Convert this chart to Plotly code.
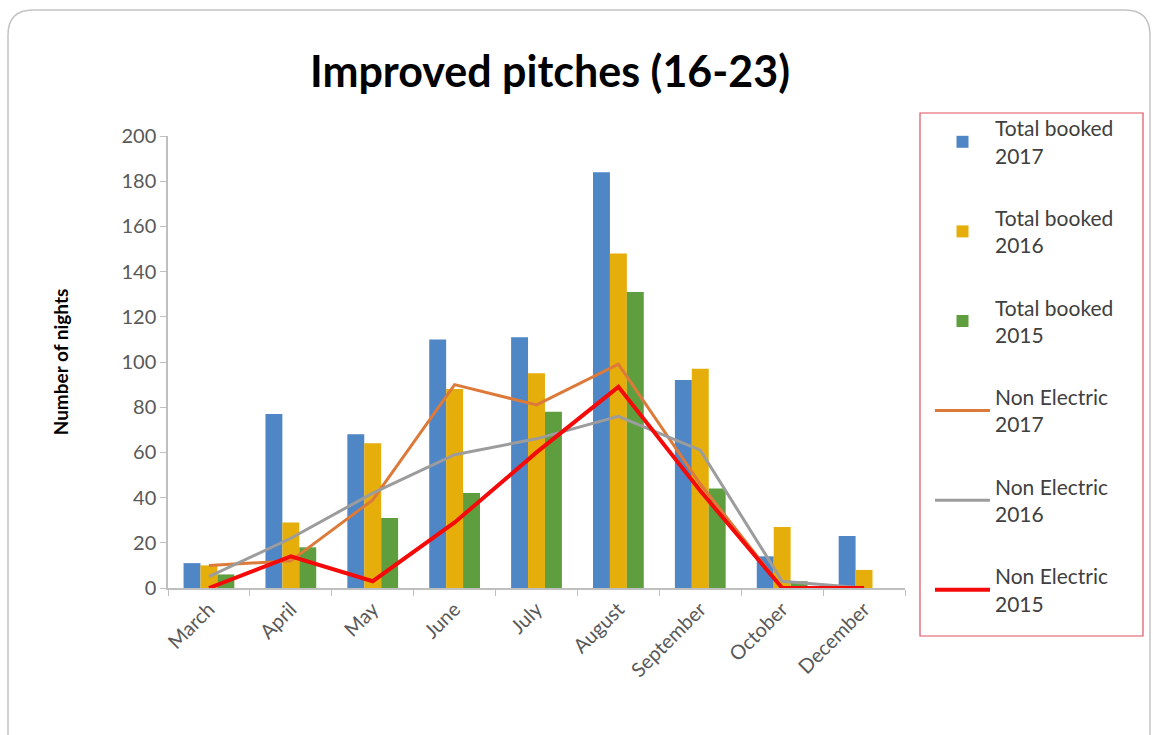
import plotly.graph_objects as go

months = ["March", "April", "May", "June", "July", "August", "September", "October", "December"]
total_2017 = [11, 77, 68, 110, 111, 184, 92, 14, 23]
total_2016 = [10, 29, 64, 88, 95, 148, 97, 27, 8]
total_2015 = [6, 18, 31, 42, 78, 131, 44, 3, 0]
nonelec_2017 = [10, 12, 39, 90, 81, 99, 46, 0, 0]
nonelec_2016 = [5, 22, 42, 59, 66, 76, 61, 3, 0]
nonelec_2015 = [0, 14, 3, 29, 60, 89, 43, 0, 0]
y_ticks = list(range(0, 201, 20))

FONT = "Lato"
W, H = 1153, 735
L, R, T, B = 168, 905, 136, 588  # plot area in pixels


def px(x):
    return (x - L) / (R - L)


def py(y):
    return (B - y) / (B - T)


fig = go.Figure()
bar_specs = [
    ("Total booked<br>2017", total_2017, "#4F86C6"),
    ("Total booked<br>2016", total_2016, "#E5AE0A"),
    ("Total booked<br>2015", total_2015, "#5E9E3F"),
]
for i, (name, vals, col) in enumerate(bar_specs):
    fig.add_trace(go.Bar(x=months, y=vals, name=name, marker_color=col,
                         marker_line_width=0, legendgroup="g" + str(i)))

line_specs = [
    ("Non Electric<br>2017", nonelec_2017, "#DD7A3A", 3),
    ("Non Electric<br>2016", nonelec_2016, "#9C9C9C", 3),
    ("Non Electric<br>2015", nonelec_2015, "#F50A0A", 4),
]
for i, (name, vals, col, w) in enumerate(line_specs):
    fig.add_trace(go.Scatter(x=months, y=vals, name=name, mode="lines",
                             line=dict(color=col, width=w), legendgroup="g" + str(i + 3)))

# outer rounded chart border
r = 25
border_path = (
    f"M {px(8)},{py(760)} L {px(8)},{py(10 + r)} "
    f"Q {px(8)},{py(10)} {px(8 + r)},{py(10)} "
    f"L {px(1150 - r)},{py(10)} "
    f"Q {px(1150)},{py(10)} {px(1150)},{py(10 + r)} "
    f"L {px(1150)},{py(760)}"
)

fig.update_layout(
    width=W, height=H,
    margin=dict(l=L, r=W - R, t=T, b=H - B, pad=0),
    paper_bgcolor="white", plot_bgcolor="white",
    font=dict(family=FONT, color="#595959"),
    barmode="group", bargap=0.38, bargroupgap=0,
    title=dict(text="<b>Improved pitches (16-23)</b>", x=550 / W, xref="container",
               xanchor="center", y=1 - 72 / H, yref="container", yanchor="middle",
               font=dict(family=FONT, size=43, color="#000000")),
    showlegend=True,
    legend=dict(x=px(930), y=py(108), xanchor="left", yanchor="top",
                font=dict(family=FONT, size=21, color="#404040"),
                bgcolor="rgba(0,0,0,0)", borderwidth=0, maxheight=700,
                tracegroupgap=32, itemwidth=55, traceorder="grouped"),
    xaxis=dict(showline=True, linecolor="#BFBFBF", linewidth=1.5,
               ticks="outside", ticklen=6, tickcolor="#BFBFBF", tickson="boundaries",
               tickangle=-45, tickfont=dict(size=20, color="#595959"),
               showgrid=False, fixedrange=True),
    yaxis=dict(range=[0, 200], tickvals=y_ticks, showline=True, linecolor="#BFBFBF",
               linewidth=1.5, ticks="outside", ticklen=6, tickcolor="#BFBFBF",
               tickfont=dict(size=20, color="#595959"), showgrid=False, zeroline=False,
               title=dict(text="<b>Number of nights</b>", standoff=48,
                          font=dict(size=19, color="#000000"))),
    shapes=[
        dict(type="path", xref="paper", yref="paper", path=border_path,
             line=dict(color="#C4C4C4", width=1.5), layer="below"),
        dict(type="rect", xref="paper", yref="paper", x0=px(920), x1=px(1143),
             y0=py(636), y1=py(113), line=dict(color="#E0505F", width=1.2)),
    ],
)

fig.write_html("out.html")
